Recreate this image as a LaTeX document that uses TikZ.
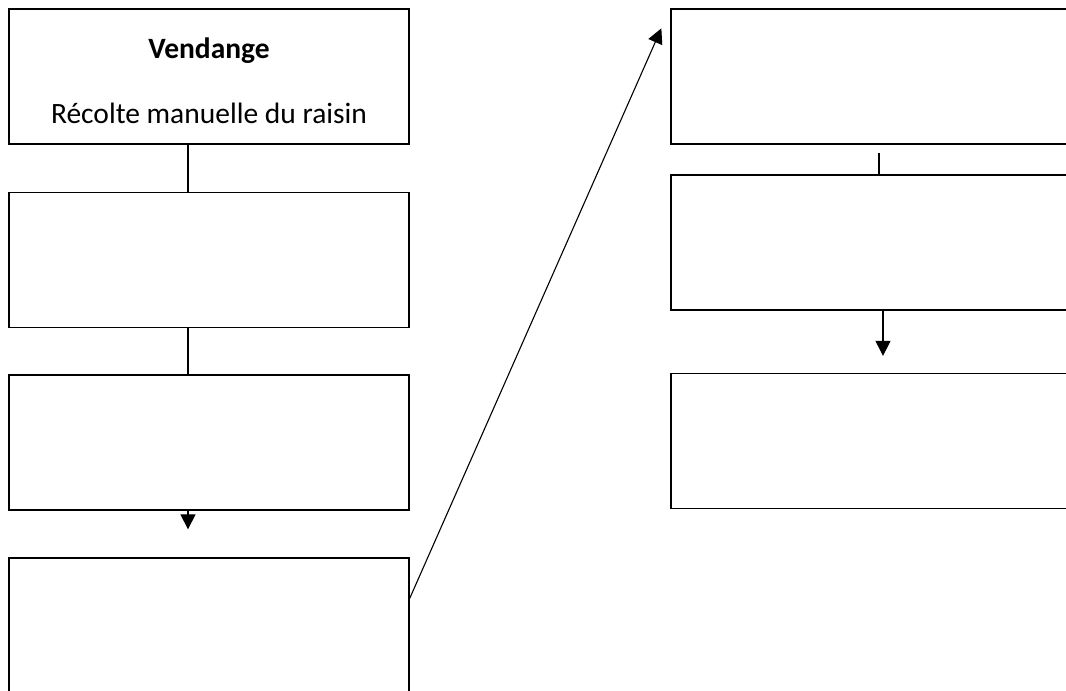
\documentclass[tikz,border=0pt]{standalone}
\usepackage{fontspec}
\setmainfont{Carlito}
\usepackage{tikz}
\usetikzlibrary{arrows.meta, calc}

\begin{document}
\begin{tikzpicture}[x=1pt, y=-1pt, line width=1.3pt,
	etape/.style={draw, rectangle, minimum width=400pt, minimum height=135pt, inner sep=0pt, align=center, font=\fontsize{29.5}{65}\selectfont},
	fleche/.style={-{Triangle[length=15pt, width=15pt]}, line width=1.1pt},
	trait/.style={line width=1.1pt}]

	\clip (0,0) rectangle (1066,691);
	\fill[white] (0,0) rectangle (1066,691);

	% colonne de gauche
	\node[etape] (vendange) at (209,76.5) {\rule{0pt}{29pt}\textbf{Vendange}\\R\'ecolte manuelle du raisin};
	\node[etape] (etapeB) at (209,260) {};
	\node[etape] (etapeC) at (209,442.5) {};
	\node[etape] (etapeD) at (209,625.5) {};

	% colonne de droite
	\node[etape] (etapeE) at (871,76.5) {};
	\node[etape] (etapeF) at (871,242.5) {};
	\node[etape] (etapeG) at (871,441) {};

	\draw[trait] ([xshift=-21pt]vendange.south) -- ([xshift=-21pt]etapeB.north);
	\draw[trait] ([xshift=-21pt]etapeB.south) -- ([xshift=-21pt]etapeC.north);
	\draw[fleche, shorten >=28pt] ([xshift=-21pt]etapeC.south) -- ([xshift=-21pt]etapeD.north);

	\coordinate (pointe) at ($ (etapeE.north west)+(-9,20) $);
	\draw[fleche] ([yshift=27pt]etapeD.east) -- (pointe);

	\draw[trait, shorten <=8pt] ([xshift=8pt]etapeE.south) -- ([xshift=8pt]etapeF.north);
	\draw[fleche, shorten >=17pt] ([xshift=12pt]etapeF.south) -- ([xshift=12pt]etapeG.north);

\end{tikzpicture}
\end{document}
